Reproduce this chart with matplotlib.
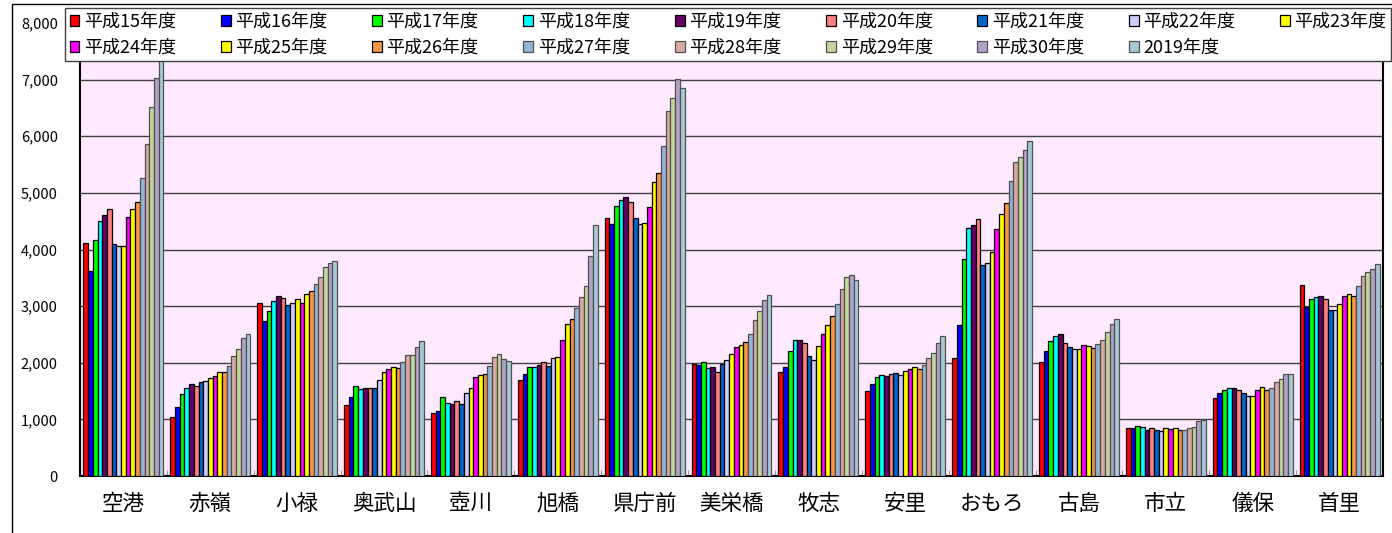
import numpy as np
import matplotlib
matplotlib.use("Agg")
from matplotlib import pyplot as plt
from matplotlib.ticker import FuncFormatter, FixedLocator
from matplotlib.patches import Rectangle

plt.rcParams['font.family'] = ['Noto Sans CJK JP', 'DejaVu Sans']

# stations (x categories)
stations = ["空港", "赤嶺", "小禄", "奥武山", "壺川", "旭橋", "県庁前", "美栄橋",
            "牧志", "安里", "おもろ", "古島", "市立", "儀保", "首里"]

# series values, one list per fiscal year
h15 = [4120, 1050, 3050, 1250, 1120, 1690, 4560, 1980, 1840, 1500, 2080, 2020, 850, 1380, 3380]
h16 = [3620, 1220, 2740, 1390, 1150, 1800, 4450, 1960, 1920, 1620, 2670, 2210, 840, 1470, 2990]
h17 = [4160, 1450, 2920, 1590, 1400, 1930, 4770, 2010, 2210, 1740, 3830, 2380, 880, 1510, 3130]
h18 = [4500, 1550, 3090, 1540, 1290, 1930, 4870, 1910, 2410, 1790, 4380, 2480, 870, 1560, 3160]
h19 = [4610, 1630, 3170, 1560, 1280, 1960, 4920, 1920, 2410, 1760, 4440, 2510, 810, 1550, 3180]
h20 = [4720, 1590, 3140, 1560, 1320, 2020, 4840, 1840, 2350, 1810, 4540, 2340, 840, 1510, 3120]
h21 = [4090, 1660, 3020, 1560, 1270, 1950, 4560, 1980, 2120, 1820, 3720, 2270, 820, 1460, 2940]
h22 = [4060, 1680, 3060, 1690, 1460, 2080, 4450, 2050, 2050, 1790, 3760, 2240, 800, 1410, 2930]
h23 = [4060, 1730, 3120, 1830, 1550, 2110, 4460, 2150, 2300, 1860, 3950, 2250, 840, 1410, 3040]
h24 = [4580, 1760, 3060, 1890, 1750, 2410, 4750, 2270, 2500, 1890, 4370, 2320, 830, 1510, 3180]
h25 = [4710, 1830, 3210, 1920, 1780, 2680, 5200, 2320, 2660, 1920, 4620, 2290, 850, 1580, 3210]
h26 = [4840, 1830, 3260, 1900, 1810, 2770, 5350, 2360, 2820, 1890, 4820, 2260, 820, 1520, 3180]
h27 = [5260, 1950, 3390, 2010, 1950, 2960, 5820, 2500, 3040, 1960, 5210, 2330, 810, 1560, 3360]
h28 = [5860, 2120, 3510, 2140, 2110, 3160, 6450, 2750, 3310, 2080, 5540, 2400, 840, 1660, 3540]
h29 = [6510, 2240, 3690, 2140, 2150, 3360, 6680, 2910, 3510, 2180, 5640, 2540, 870, 1710, 3600]
h30 = [7030, 2430, 3770, 2280, 2060, 3890, 7010, 3110, 3550, 2340, 5760, 2680, 970, 1800, 3660]
y2019 = [7600, 2510, 3800, 2380, 2030, 4440, 6850, 3190, 3470, 2480, 5910, 2780, 990, 1800, 3740]

series_labels = ["平成15年度", "平成16年度", "平成17年度", "平成18年度", "平成19年度",
                 "平成20年度", "平成21年度", "平成22年度", "平成23年度", "平成24年度",
                 "平成25年度", "平成26年度", "平成27年度", "平成28年度", "平成29年度",
                 "平成30年度", "2019年度"]
series_values = [h15, h16, h17, h18, h19, h20, h21, h22, h23, h24, h25, h26,
                 h27, h28, h29, h30, y2019]
colors = ["#FF0000", "#0000FF", "#00FF00", "#00FFFF", "#660066", "#FF8080",
          "#0066CC", "#CCCCFF", "#FFFF00", "#FF00FF", "#FFFF00", "#F79646",
          "#95B3D7", "#D9A9A3", "#C3D69B", "#B3A2C7", "#A5CAD6"]
edges = ["#000000"] * 12 + ["#505050"] * 5

y_ticks = [0, 1000, 2000, 3000, 4000, 5000, 6000, 7000, 8000]

W, H = 1392, 533
fig = plt.figure(figsize=(W / 100, H / 100), dpi=100)
ax = fig.add_axes([80 / W, 1 - 476 / H, 1303 / W, 453 / H])
ax.set_facecolor("#FFE9FF")

n = len(series_values)
group_w = 0.92
bw = group_w / n
x = np.arange(len(stations))
handles = []
for i, vals in enumerate(series_values):
    b = ax.bar(x - group_w / 2 + bw * (i + 0.5), vals, width=bw, color=colors[i],
               edgecolor=edges[i], linewidth=0.9, label=series_labels[i], zorder=3)
    handles.append(b)

ax.set_xlim(-0.5, len(stations) - 0.5)
ax.set_ylim(0, 8000)
ax.set_yticks(y_ticks)
ax.yaxis.set_major_formatter(FuncFormatter(lambda v, p: f"{v:,.0f}"))
ax.tick_params(axis="y", length=0, pad=16, labelsize=10.5)
ax.set_xticks(x)
ax.set_xticklabels(stations, fontsize=15.5)
ax.tick_params(axis="x", length=0, pad=12)
ax.xaxis.set_minor_locator(FixedLocator(np.arange(0.5, len(stations) - 0.5, 1)))
ax.tick_params(axis="x", which="minor", direction="in", length=4, color="#808080")

ax.grid(axis="y", color="#404040", linewidth=1, zorder=1)
for s in ax.spines.values():
    s.set_color("black")
    s.set_linewidth(1.5)

# legend ordered so the rows read left to right
order = [0, 9, 1, 10, 2, 11, 3, 12, 4, 13, 5, 14, 6, 15, 7, 16, 8]
leg = fig.legend([handles[k] for k in order], [series_labels[k] for k in order],
                 ncol=9, loc="upper left", mode="expand",
                 bbox_to_anchor=(65 / W, 1 - 8 / H, (1391 - 65) / W, 0),
                 borderaxespad=0, fontsize=13, handlelength=0.55, handleheight=0.55,
                 handletextpad=0.25, labelspacing=0.45, borderpad=0.25,
                 fancybox=False, framealpha=1, edgecolor="#404040")
leg.get_frame().set_linewidth(1)

# chart area border
fig.patches.append(Rectangle((12 / W, -0.1), 1.2, 1.1 - 4 / H, transform=fig.transFigure,
                             fill=False, edgecolor="black", linewidth=1))

fig.savefig("out.png", dpi=100)
